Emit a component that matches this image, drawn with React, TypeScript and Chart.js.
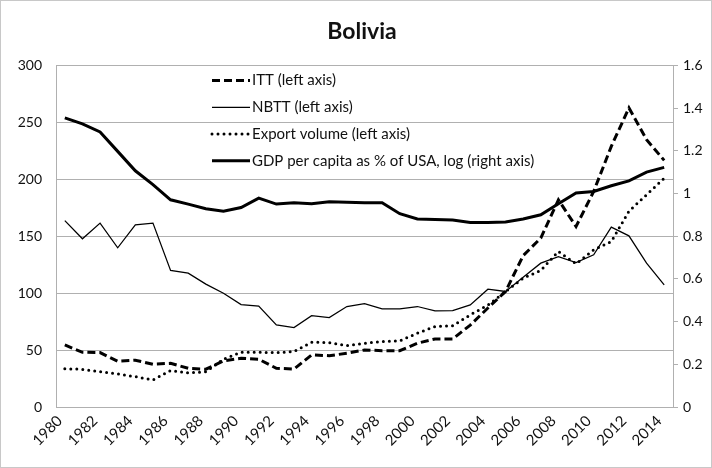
import React, { useEffect, useRef } from "react";
import { Chart, registerables } from "chart.js";

Chart.register(...registerables);

const YEARS = [
  "1980","1981","1982","1983","1984","1985","1986","1987","1988","1989",
  "1990","1991","1992","1993","1994","1995","1996","1997","1998","1999",
  "2000","2001","2002","2003","2004","2005","2006","2007","2008","2009",
  "2010","2011","2012","2013","2014",
];

const ITT = [
  54.5, 48.1, 47.8, 40.2, 41.1, 37.6, 38.4, 34.0, 33.2, 40.5,
  42.8, 42.0, 34.0, 33.4, 45.7, 45.1, 47.2, 50.1, 49.5, 49.5,
  56.0, 59.8, 59.8, 72.0, 87.0, 101.5, 133.0, 148.4, 182.0, 158.6,
  189.4, 229.0, 262.8, 234.9, 216.7,
];

const NBTT = [
  163.8, 147.8, 161.6, 139.9, 160.1, 161.6, 120.0, 117.6, 108.0, 100.0,
  90.0, 88.6, 72.1, 69.8, 80.3, 78.6, 88.3, 90.9, 86.2, 86.2,
  88.3, 84.5, 84.7, 89.7, 103.5, 101.5, 114.0, 126.4, 132.2, 127.0,
  133.7, 158.1, 150.4, 126.4, 107.3,
];

const EXPORT_VOLUME = [
  33.7, 33.1, 31.1, 29.0, 26.7, 23.8, 32.0, 30.0, 31.0, 42.0,
  48.1, 48.1, 47.8, 48.7, 56.9, 56.6, 54.0, 56.0, 57.5, 58.1,
  64.8, 70.7, 71.3, 81.0, 89.5, 101.5, 113.2, 120.0, 136.7, 125.8,
  138.1, 145.4, 172.0, 186.5, 201.0,
];

const GDP_PC = [
  1.355, 1.327, 1.289, 1.198, 1.107, 1.042, 0.971, 0.951, 0.929, 0.917,
  0.935, 0.979, 0.951, 0.957, 0.953, 0.962, 0.959, 0.957, 0.957, 0.906,
  0.881, 0.879, 0.876, 0.865, 0.865, 0.867, 0.881, 0.901, 0.953, 1.003,
  1.010, 1.037, 1.060, 1.101, 1.123,
];

const RIGHT_TICKS = ["0", "0.2", "0.4", "0.6", "0.8", "1", "1.2", "1.4", "1.6"];

const LABELS = {
  itt: "ITT (left axis)",
  nbtt: "NBTT (left axis)",
  exp: "Export volume (left axis)",
  gdp: "GDP per capita as % of USA, log (right axis)",
};

const FONT = "Lato, 'Open Sans', sans-serif";
const TEXT = "#111111";
const GRID = "#b0b0b0";

const inlineLegend = {
  id: "inlineLegend",
  afterDatasetsDraw(chart: any) {
    const { ctx, chartArea } = chart;
    const x0 = chartArea.left + 156;
    const x1 = x0 + 38;
    const top = chartArea.top + 15;
    const row = 26.7;
    ctx.save();
    chart.data.datasets.forEach((ds: any, i: number) => {
      const y = top + i * row;
      ctx.beginPath();
      ctx.setLineDash(ds.borderDash || []);
      ctx.lineWidth = ds.borderWidth;
      ctx.lineCap = ds.borderCapStyle || "butt";
      ctx.strokeStyle = ds.borderColor;
      ctx.moveTo(x0, y);
      ctx.lineTo(x1, y);
      ctx.stroke();
      ctx.setLineDash([]);
      ctx.fillStyle = TEXT;
      ctx.font = `15px ${FONT}`;
      ctx.textBaseline = "middle";
      ctx.textAlign = "left";
      ctx.fillText(ds.label, x1 + 2, y);
    });
    ctx.restore();
  },
};

const frame = {
  id: "frame",
  beforeDraw(chart: any) {
    const { ctx, width, height } = chart;
    ctx.save();
    ctx.fillStyle = "#ffffff";
    ctx.fillRect(0, 0, width, height);
    ctx.strokeStyle = "#c8c8c8";
    ctx.lineWidth = 1;
    ctx.strokeRect(0.5, 0.5, width - 1, height - 1);
    ctx.restore();
  },
};

export default function App() {
  const ref = useRef<HTMLCanvasElement | null>(null);

  useEffect(() => {
    if (!ref.current) return;
    const chart = new Chart(ref.current, {
      type: "line",
      data: {
        labels: YEARS,
        datasets: [
          {
            label: LABELS.itt,
            data: ITT,
            yAxisID: "y",
            borderColor: "#000",
            borderWidth: 3,
            borderDash: [8, 4],
            borderCapStyle: "butt",
            pointRadius: 0,
            tension: 0,
            fill: false,
          },
          {
            label: LABELS.nbtt,
            data: NBTT,
            yAxisID: "y",
            borderColor: "#000",
            borderWidth: 1.25,
            pointRadius: 0,
            tension: 0,
            fill: false,
          },
          {
            label: LABELS.exp,
            data: EXPORT_VOLUME,
            yAxisID: "y",
            borderColor: "#000",
            borderWidth: 3,
            borderDash: [0, 6],
            borderCapStyle: "round",
            pointRadius: 0,
            tension: 0,
            fill: false,
          },
          {
            label: LABELS.gdp,
            data: GDP_PC,
            yAxisID: "y1",
            borderColor: "#000",
            borderWidth: 3,
            pointRadius: 0,
            tension: 0,
            fill: false,
          },
        ] as any,
      },
      options: {
        animation: false,
        responsive: false,
        maintainAspectRatio: false,
        layout: { padding: { left: 12, right: 0, top: 0, bottom: 0 } },
        plugins: {
          legend: { display: false },
          tooltip: { enabled: false },
          title: {
            display: true,
            text: "Bolivia",
            color: TEXT,
            font: { family: FONT, size: 23, weight: "bold" },
            padding: { top: 18, bottom: 20 },
          },
        },
        scales: {
          x: {
            offset: true,
            grid: { display: false },
            border: { display: true, color: GRID, width: 1 },
            ticks: {
              autoSkip: false,
              minRotation: 45,
              maxRotation: 45,
              padding: -3,
              labelOffset: -5,
              color: TEXT,
              font: { family: FONT, size: 15 },
              callback: (_v: any, i: number) => (i % 2 === 0 ? YEARS[i] : null),
            },
            afterFit: (s: any) => {
              s.height = 61;
            },
          },
          y: {
            position: "left",
            min: 0,
            max: 300,
            grid: { color: GRID, drawTicks: false },
            border: { display: true, color: GRID },
            ticks: {
              stepSize: 50,
              padding: 14,
              color: TEXT,
              font: { family: FONT, size: 14 },
            },
            afterFit: (s: any) => {
              s.width = 44;
            },
          },
          y1: {
            position: "right",
            min: 0,
            max: 1.6,
            grid: { drawOnChartArea: false, drawTicks: true, tickLength: 5, color: GRID },
            border: { display: true, color: GRID },
            ticks: {
              stepSize: 0.2,
              padding: 5,
              color: TEXT,
              font: { family: FONT, size: 14 },
              callback: (_v: any, i: number) => RIGHT_TICKS[i],
            },
            afterFit: (s: any) => {
              s.width = 39;
            },
          },
        },
      } as any,
      plugins: [frame, inlineLegend],
    });
    return () => chart.destroy();
  }, []);

  return (
    <div style={{ position: "fixed", left: 0, top: 0, width: 712, height: 468 }}>
      <canvas ref={ref} width={712} height={468} style={{ display: "block" }} />
    </div>
  );
}
